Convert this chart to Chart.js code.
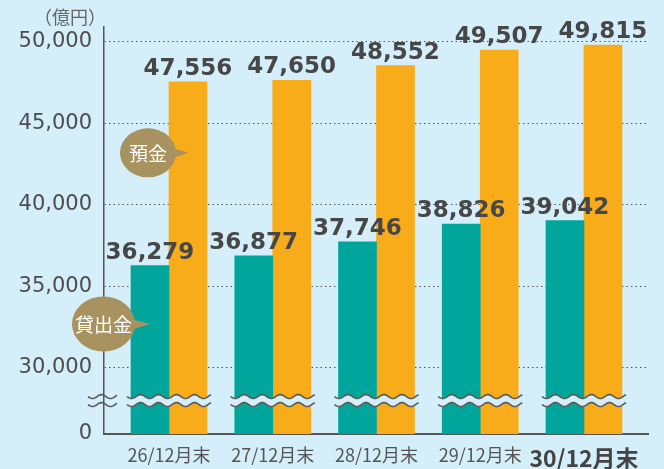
<!DOCTYPE html>
<html lang="ja">
<head>
<meta charset="utf-8">
<script src="https://cdn.jsdelivr.net/npm/chart.js@4"></script>
<style>
  html,body{margin:0;padding:0;background:#d4eefa;}
  #wrap{width:664px;height:469px;position:relative;}
</style>
</head>
<body>
<div id="wrap"><canvas id="ch"></canvas></div>
<script>
// ===== データ =====
const categories=['26/12月末','27/12月末','28/12月末','29/12月末','30/12月末'];
const loans=[36279,36877,37746,38826,39042];      // 貸出金
const deposits=[47556,47650,48552,49507,49815];   // 預金
const yTicks=[30000,35000,40000,45000,50000];
const seriesNames=['貸出金','預金'];
const unitLabel='（億円）';

// ===== 設定 =====
const BG='#d4eefa', TEAL='#00a69c', ORANGE='#f9ac19', OLIVE='#a8925f', INK='#474747', AXIS='#555555';
const Y_MIN=25950, Y_MAX=50920, Y_BREAK=28000;   // 軸の省略（0〜30,000）
const X_MIN=-0.6265, X_MAX=4.617;
const JP='"Noto Sans CJK JP","Noto Sans",sans-serif';

// 波線（省略記号）
function wavePath(g,x0,x1,y){
  const A=2, P=18;
  g.moveTo(x0,y);
  for(let x=x0;x<=x1;x+=1) g.lineTo(x,y+A*Math.sin((x-x0)/P*2*Math.PI));
}
function wave(g,x0,x1,yc,fill){
  const gap=4;
  g.save();
  if(fill){
    g.beginPath(); wavePath(g,x0,x1,yc-gap);
    for(let x=x1;x>=x0;x-=1) g.lineTo(x,yc+gap+2*Math.sin((x-x0)/18*2*Math.PI));
    g.closePath(); g.fillStyle=BG; g.fill();
  }
  g.strokeStyle='#5a5a5a'; g.lineWidth=1.6;
  g.beginPath(); wavePath(g,x0,x1,yc-gap); g.stroke();
  g.beginPath(); wavePath(g,x0,x1,yc+gap); g.stroke();
  g.restore();
}
// 吹き出し
function bubble(g,tipX,tipY,dx,rx,ry,text){
  const cx=tipX-dx, cy=tipY;
  g.save();
  g.fillStyle=OLIVE;
  g.beginPath(); g.ellipse(cx,cy,rx,ry,0,0,Math.PI*2); g.fill();
  g.beginPath(); g.moveTo(cx+rx-8,cy-6); g.lineTo(tipX,cy); g.lineTo(cx+rx-8,cy+7); g.closePath(); g.fill();
  g.fillStyle='#ffffff'; g.font='19px '+JP; g.textAlign='center'; g.textBaseline='middle';
  g.fillText(text,cx,cy+1);
  g.restore();
}

const deco={
  id:'deco',
  beforeDraw(c){ const g=c.ctx; g.save(); g.fillStyle=BG; g.fillRect(0,0,c.width,c.height); g.restore(); },
  afterDatasetsDraw(c){
    const g=c.ctx, ys=c.scales.y, yb=ys.getPixelForValue(Y_BREAK);
    const m0=c.getDatasetMeta(0), m1=c.getDatasetMeta(1);
    m0.data.forEach((b,i)=>{ const o=m1.data[i]; wave(g,b.x-b.width/2-4,o.x+o.width/2+4,yb,true); });
    wave(g,ys.right-16,ys.right+13,yb,false);
    // 吹き出し
    bubble(g,m1.data[0].x,ys.getPixelForValue(43200),40,28,24.5,seriesNames[1]);
    bubble(g,m0.data[0].x,ys.getPixelForValue(32700),46.5,31.5,27.5,seriesNames[0]);
    // 数値ラベル
    g.save();
    g.fillStyle=INK; g.font='bold 23px "DejaVu Sans",sans-serif'; g.textAlign='center'; g.textBaseline='alphabetic';
    [m0,m1].forEach((m,d)=>{
      const vals=d===0?loans:deposits;
      m.data.forEach((b,i)=>g.fillText(vals[i].toLocaleString('en-US'),b.x,b.y-7));
    });
    g.restore();
  },
  afterDraw(c){
    const g=c.ctx, ys=c.scales.y;
    g.save(); g.fillStyle='#666'; g.font='18px '+JP; g.textAlign='center'; g.textBaseline='middle';
    g.fillText(unitLabel,ys.right-34,17); g.restore();
  }
};

new Chart(document.getElementById('ch'),{
  type:'bar',
  data:{datasets:[
    {label:seriesNames[0],data:loans.map((v,i)=>({x:i,y:v})),backgroundColor:TEAL,barThickness:38},
    {label:seriesNames[1],data:deposits.map((v,i)=>({x:i,y:v})),backgroundColor:ORANGE,barThickness:38}
  ]},
  options:{
    responsive:true,maintainAspectRatio:false,animation:false,devicePixelRatio:1,
    layout:{padding:{top:27,right:16,left:0,bottom:0}},
    plugins:{legend:{display:false},tooltip:{enabled:false}},
    scales:{
      x:{type:'linear',min:X_MIN,max:X_MAX,offset:false,
        afterBuildTicks:s=>{ s.ticks=categories.map((_,i)=>({value:i})); },
        afterFit:s=>{ s.height=35; s.paddingLeft=0; s.paddingRight=0; },
        border:{color:AXIS,width:2},
        grid:{display:false,drawTicks:false,offset:false},
        ticks:{autoSkip:false,maxRotation:0,padding:10,
          font:ctx=>ctx.index===categories.length-1?{family:JP,size:23,weight:'bold'}:{family:JP,size:18},
          color:ctx=>ctx.index===categories.length-1?'#444':'#555',
          callback:v=>categories[v]}
      },
      y:{min:Y_MIN,max:Y_MAX,
        afterBuildTicks:s=>{ s.ticks=[Y_MIN,...yTicks].map(v=>({value:v})); },
        afterFit:s=>{ s.width=104; },
        border:{color:AXIS,width:1.5,dash:[1.5,3]},
        grid:{drawTicks:false,lineWidth:1,color:ctx=>(ctx.tick&&ctx.tick.value>=yTicks[0])?'#555':'rgba(0,0,0,0)'},
        ticks:{padding:12,color:'#4d4d4d',font:{family:'"DejaVu Sans",sans-serif',size:21},
          callback:v=>v===Y_MIN?'0':v.toLocaleString('en-US')}
      }
    }
  },
  plugins:[deco]
});
</script>
</body>
</html>
